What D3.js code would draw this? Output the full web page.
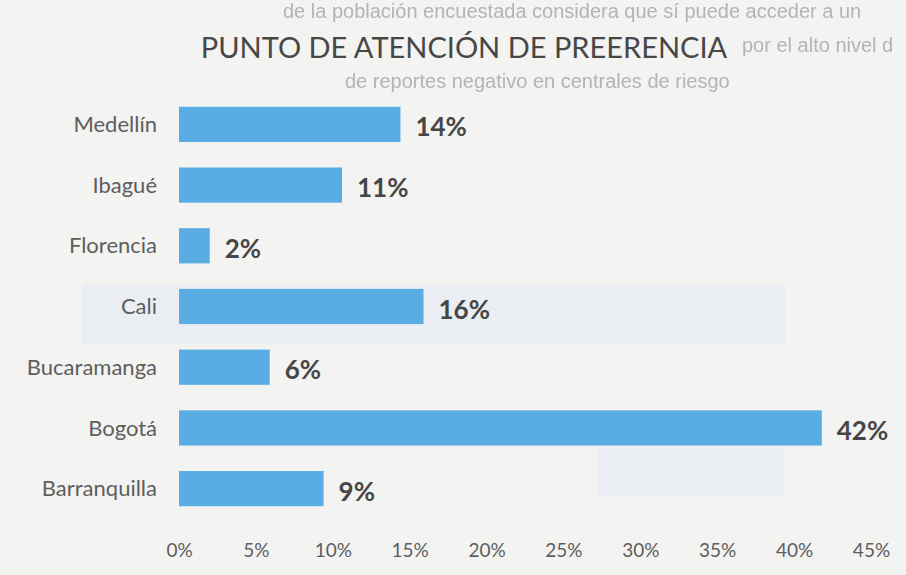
<!DOCTYPE html>
<meta charset="utf-8">
<style>
body { margin: 0; background: #f3f3f2; }
svg { display: block; }
.ghost { font: 20px "Liberation Sans", Arial, sans-serif; fill: #b4b4b4; }
.title { font: 29px Lato, "Open Sans", sans-serif; fill: #474747; }
.cat { font: 22px Lato, "Open Sans", sans-serif; fill: #5e5e5e; }
.val { font: bold 26px Lato, "Open Sans", sans-serif; fill: #464646; }
.axis text { font: 19px Lato, "Open Sans", sans-serif; fill: #5e5e5e; }
.axis path, .axis line { display: none; }
.bar { fill: #5aade3; }
</style>
<svg width="906" height="575"></svg>
<script src="https://d3js.org/d3.v7.min.js"></script>
<script>
// data (labels are the rounded values printed on the chart)
var cities = ["Medellín", "Ibagué", "Florencia", "Cali", "Bucaramanga", "Bogotá", "Barranquilla"];
var shares = [14.4, 10.6, 2.0, 15.9, 5.9, 41.8, 9.4];
var ticks = [0, 5, 10, 15, 20, 25, 30, 35, 40, 45];

// show-through text from the other side of the page
var ghostLines = [
  {t: "de la población encuestada considera que sí puede acceder a un", x: 283, y: 18},
  {t: "por el alto nivel d", x: 742, y: 52},
  {t: "de reportes negativo en centrales de riesgo", x: 345, y: 88}
];

var data = cities.map(function(c, i) { return {city: c, v: shares[i]}; });

var svg = d3.select("svg");

svg.append("defs").append("filter").attr("id", "soft")
  .append("feGaussianBlur").attr("stdDeviation", 0.7);

var x = d3.scaleLinear().domain([0, 45]).range([179, 871]);
var y = d3.scaleBand().domain(cities).range([94, 519])
    .paddingInner(0.42).paddingOuter(0.21);

// faint bleed-through
svg.append("rect").attr("x", 82).attr("y", 284).attr("width", 703).attr("height", 60)
    .attr("fill", "#e2eaf3").attr("opacity", 0.55);
svg.append("rect").attr("x", 598).attr("y", 448).attr("width", 186).attr("height", 48)
    .attr("fill", "#e2eaf3").attr("opacity", 0.55);
svg.selectAll(".ghost")
    .data(ghostLines)
  .enter().append("text")
    .attr("class", "ghost")
    .attr("filter", "url(#soft)")
    .attr("x", function(d) { return d.x; })
    .attr("y", function(d) { return d.y; })
    .text(function(d) { return d.t; });

svg.append("text")
    .attr("class", "title")
    .attr("x", 464)
    .attr("y", 58)
    .attr("text-anchor", "middle")
    .text("PUNTO DE ATENCIÓN DE PREERENCIA");

svg.selectAll(".bar")
    .data(data)
  .enter().append("rect")
    .attr("class", "bar")
    .attr("x", x(0))
    .attr("y", function(d) { return y(d.city); })
    .attr("width", function(d) { return x(d.v) - x(0); })
    .attr("height", y.bandwidth());

svg.selectAll(".cat")
    .data(data)
  .enter().append("text")
    .attr("class", "cat")
    .attr("x", 157)
    .attr("y", function(d) { return y(d.city) + y.bandwidth() / 2; })
    .attr("dy", "0.35em")
    .attr("text-anchor", "end")
    .text(function(d) { return d.city; });

svg.selectAll(".val")
    .data(data)
  .enter().append("text")
    .attr("class", "val")
    .attr("x", function(d) { return x(d.v) + 15; })
    .attr("y", function(d) { return y(d.city) + y.bandwidth() / 2 + 3; })
    .attr("dy", "0.35em")
    .text(function(d) { return Math.round(d.v) + "%"; });

svg.append("g")
    .attr("class", "axis")
    .attr("transform", "translate(0,543)")
    .call(d3.axisBottom(x).tickValues(ticks).tickSize(0).tickPadding(0)
      .tickFormat(function(d) { return d + "%"; }));
</script>
